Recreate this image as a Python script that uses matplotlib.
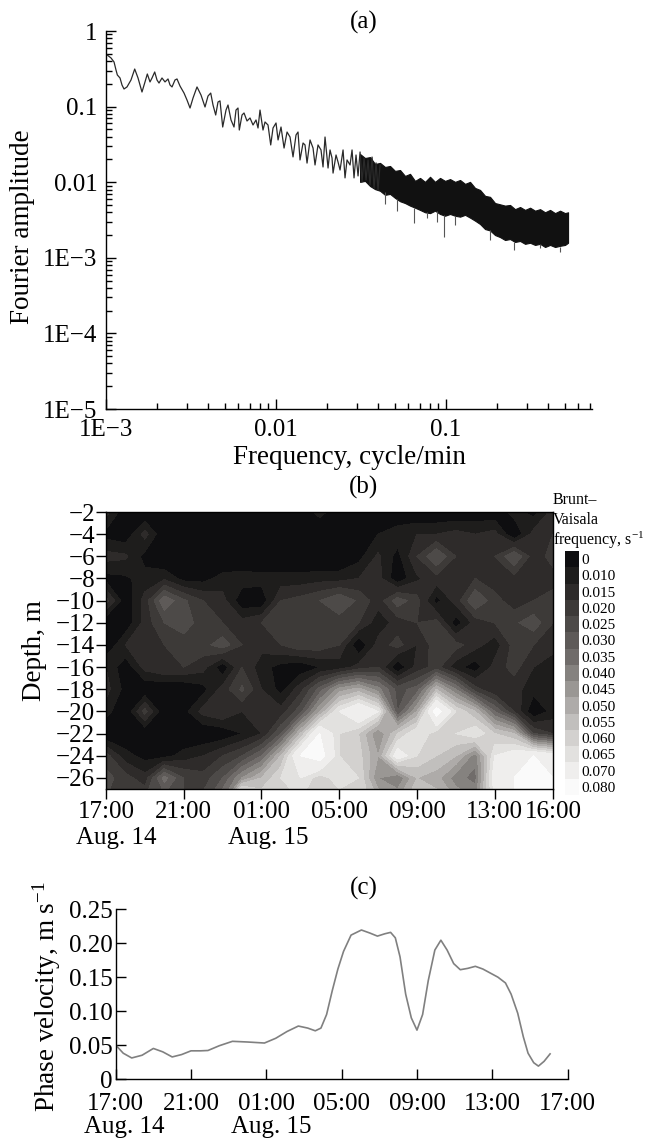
import numpy as np
import matplotlib
matplotlib.use('Agg')
import matplotlib.pyplot as plt
from matplotlib.colors import ListedColormap
from matplotlib.ticker import FixedLocator, FixedFormatter, NullFormatter, LogLocator

plt.rcParams['font.family'] = ['Liberation Serif', 'DejaVu Serif']
plt.rcParams['mathtext.fontset'] = 'custom'
plt.rcParams['mathtext.rm'] = 'Liberation Serif'
plt.rcParams['mathtext.it'] = 'Liberation Serif:italic'
plt.rcParams['axes.linewidth'] = 1.0

# ---------------- (a) Fourier spectrum ----------------
spec_freq = [0.001018, 0.00107, 0.001115, 0.001145, 0.001166, 0.001209, 0.001242, 0.001276,
             0.001329, 0.001403, 0.001475, 0.001543, 0.001628, 0.001696, 0.00175, 0.001815,
             0.001865, 0.001934, 0.001995, 0.00205, 0.002135, 0.002224, 0.002316, 0.00238,
             0.002445, 0.002546, 0.002616, 0.002725, 0.002877, 0.002996, 0.003121, 0.00325,
             0.00343, 0.003622, 0.003823, 0.003981, 0.00413, 0.00426, 0.004418, 0.004558,
             0.004683, 0.004858, 0.00508, 0.005219, 0.005436, 0.005661, 0.005816, 0.005976,
             0.006082, 0.00631, 0.006483, 0.006752, 0.007032, 0.007323, 0.007627, 0.007836,
             0.008051, 0.008384, 0.008615, 0.008972, 0.009307, 0.009602, 0.01, 0.01028,
             0.0107, 0.01115, 0.01161, 0.01209, 0.01259, 0.01311, 0.01347, 0.01384,
             0.01442, 0.01481, 0.01522, 0.01585, 0.01651, 0.01696, 0.01766, 0.01839,
             0.0189, 0.01942, 0.02023, 0.02078, 0.02135, 0.02165, 0.02254, 0.02316,
             0.0238, 0.02479, 0.02546, 0.02616, 0.02725, 0.028, 0.02876, 0.02955,
             0.03037, 0.03121, 0.03206, 0.03294, 0.03385, 0.03478, 0.03573, 0.03672,
             0.03772, 0.03876, 0.03981, 0.04091]
spec_amp = [0.48, 0.44, 0.389, 0.305, 0.262, 0.239, 0.193, 0.171,
            0.182, 0.225, 0.314, 0.239, 0.156, 0.212, 0.27, 0.212,
            0.239, 0.287, 0.225, 0.205, 0.239, 0.212, 0.232, 0.193,
            0.182, 0.225, 0.232, 0.187, 0.151, 0.122, 0.0958, 0.13,
            0.182, 0.142, 0.0988, 0.138, 0.151, 0.105, 0.0774, 0.115,
            0.119, 0.0537, 0.09, 0.105, 0.0665, 0.0537, 0.09, 0.0958,
            0.049, 0.0774, 0.0823, 0.0645, 0.0707, 0.0571, 0.0665, 0.0521,
            0.09, 0.049, 0.0626, 0.0571, 0.0311, 0.0521, 0.0607, 0.0362,
            0.0537, 0.0283, 0.0461, 0.0396, 0.0216, 0.0421, 0.0461, 0.0197,
            0.033, 0.0311, 0.0179, 0.0362, 0.0283, 0.0169, 0.0311, 0.0267,
            0.0159, 0.0396, 0.0154, 0.0267, 0.0209, 0.0132, 0.0229, 0.0185,
            0.0145, 0.0267, 0.0114, 0.0197, 0.0169, 0.0267, 0.0114, 0.0229,
            0.0121, 0.0251, 0.0101, 0.0209, 0.0107, 0.0197, 0.0092, 0.0215,
            0.0084, 0.018, 0.0079, 0.0169]

band_freq = [0.03121, 0.03339,
             0.03573, 0.03823, 0.04091, 0.04378, 0.04684, 0.05012, 0.05363, 0.05739,
             0.06141, 0.06571, 0.07032, 0.07524, 0.08051, 0.08615, 0.09219, 0.09865,
             0.1056, 0.113, 0.1209, 0.1294, 0.1384, 0.1481, 0.1585, 0.1696,
             0.1815, 0.1942, 0.2078, 0.2224, 0.238, 0.2546, 0.2725, 0.2916,
             0.3121, 0.3339, 0.3573, 0.3823, 0.4091, 0.4378, 0.4684, 0.5012, 0.5219]
band_top = [0.0236, 0.0209,
            0.0215, 0.0174, 0.018, 0.0159, 0.0164, 0.0141, 0.0145, 0.0121,
            0.0129, 0.0104, 0.0114, 0.0101, 0.0118, 0.0101, 0.0114, 0.0104,
            0.011, 0.0101, 0.0107, 0.0095, 0.0101, 0.0084, 0.0079, 0.0066,
            0.0064, 0.0053, 0.0051, 0.0049, 0.005, 0.0044, 0.0047, 0.0043,
            0.0046, 0.0042, 0.0044, 0.004, 0.0043, 0.0039, 0.0042, 0.0039, 0.004]
band_bottom = [0.0101, 0.0104,
               0.0089, 0.0081, 0.0077, 0.0068, 0.007, 0.0062, 0.0056, 0.0053,
               0.0049, 0.0046, 0.0043, 0.004, 0.0039, 0.0042, 0.0038, 0.0036,
               0.0038, 0.0036, 0.0035, 0.0037, 0.0034, 0.0031, 0.0028, 0.0024,
               0.0023, 0.002, 0.00188, 0.00172, 0.00177, 0.00162, 0.00167, 0.00153,
               0.00158, 0.00148, 0.00153, 0.00139, 0.00148, 0.00139, 0.00144, 0.00148, 0.00158]

spike_freq = [0.04378, 0.05149, 0.0651, 0.07731, 0.08852, 0.09732, 0.113, 0.1808, 0.2512,
              0.3554, 0.4684]
spike_top = [0.0075, 0.006, 0.0046, 0.004, 0.0042, 0.0037, 0.0036, 0.0023, 0.0016, 0.0015, 0.0014]
spike_low = [0.0052, 0.0041, 0.0029, 0.00336, 0.00297, 0.00188, 0.0027, 0.00172, 0.00127,
             0.00135, 0.0012]

a_xticks = [1e-3, 1e-2, 1e-1]
a_xticklabels = ['1E\u22123', '0.01', '0.1']
a_yticks = [1e-5, 1e-4, 1e-3, 1e-2, 1e-1, 1]
a_yticklabels = ['1E\u22125', '1E\u22124', '1E\u22123', '0.01', '0.1', '1']

# ---------------- (b) Brunt-Vaisala frequency ----------------
bv_hours = list(range(24))
bv_depth = [-2, -4, -6, -8, -10, -12, -14, -16, -18, -20, -22, -24, -26, -28]
bv_milli = [
    [17, 6, 5, 5, 5, 5, 5, 5, 5, 5, 6, 12, 6, 5, 5, 5, 5, 5, 5, 6, 6, 12, 8, 17],
    [8, 6, 17, 5, 4, 4, 4, 4, 4, 4, 4, 4, 4, 5, 10, 13, 15, 15, 17, 15, 17, 5, 17, 20],
    [17, 16, 8, 4, 4, 4, 4, 4, 4, 4, 4, 4, 4, 8, 16, 8, 20, 30, 20, 17, 20, 30, 17, 22],
    [8, 9, 12, 14, 8, 8, 12, 13, 12, 12, 12, 13, 13, 15, 17, 6, 14, 18, 17, 20, 17, 18, 20, 18],
    [22, 6, 17, 34, 26, 20, 17, 6, 6, 20, 22, 25, 30, 24, 17, 28, 22, 8, 17, 30, 22, 17, 20, 22],
    [5, 6, 17, 25, 28, 22, 20, 17, 20, 23, 24, 24, 22, 20, 12, 17, 20, 22, 7, 17, 20, 24, 28, 20],
    [5, 15, 20, 20, 22, 23, 28, 20, 17, 20, 24, 23, 20, 5, 17, 22, 15, 23, 22, 17, 12, 22, 20, 17],
    [15, 6, 17, 20, 20, 17, 6, 20, 12, 8, 6, 10, 12, 17, 20, 5, 17, 22, 12, 7, 17, 22, 15, 12],
    [17, 8, 5, 5, 5, 8, 17, 26, 15, 8, 18, 32, 47, 52, 42, 28, 32, 55, 40, 22, 15, 17, 12, 15],
    [12, 5, 22, 5, 8, 17, 20, 15, 20, 17, 28, 50, 70, 80, 70, 30, 50, 85, 65, 55, 35, 20, 5, 12],
    [5, 5, 5, 8, 5, 5, 6, 10, 15, 30, 55, 80, 65, 60, 45, 60, 70, 62, 65, 70, 60, 55, 25, 20],
    [22, 12, 8, 8, 12, 15, 20, 25, 35, 55, 80, 85, 65, 62, 50, 75, 65, 60, 55, 42, 70, 75, 80, 75],
    [27, 22, 17, 37, 25, 22, 30, 45, 55, 65, 70, 62, 68, 65, 45, 40, 55, 52, 42, 38, 75, 80, 85, 80],
    [25, 25, 25, 27, 25, 27, 40, 85, 65, 62, 65, 60, 62, 65, 55, 50, 60, 58, 50, 45, 70, 80, 82, 80],
]
bv_levels = [0, 0.010, 0.015, 0.020, 0.025, 0.030, 0.035, 0.040, 0.045, 0.050,
             0.055, 0.060, 0.065, 0.070, 0.080, 0.100]
bv_labels = ['0', '0.010', '0.015', '0.020', '0.025', '0.030', '0.035', '0.040',
             '0.045', '0.050', '0.055', '0.060', '0.065', '0.070', '0.080']
b_xticks = [0, 4, 8, 12, 16, 20, 23]
b_xticklabels = ['17:00', '21:00', '01:00', '05:00', '09:00', '13:00', '16:00']
b_yticks = [-2, -4, -6, -8, -10, -12, -14, -16, -18, -20, -22, -24, -26]

# ---------------- (c) Phase velocity ----------------
pv_hours = [0, 0.4, 0.85, 1.4, 2.0, 2.5, 3.0, 3.5, 4.0, 4.5, 4.9, 5.5, 6.2, 7.0, 7.9, 8.5,
            9.1, 9.7, 10.2, 10.6, 10.9, 11.2, 11.5, 11.8, 12.1, 12.5, 13.05, 13.5, 13.9,
            14.3, 14.6, 14.85, 15.1, 15.4, 15.7, 16.0, 16.3, 16.6, 16.95, 17.27, 17.6,
            17.95, 18.3, 18.7, 19.1, 19.5, 19.9, 20.3, 20.7, 21.0, 21.35, 21.65, 21.9,
            22.2, 22.45, 22.75, 23.07]
pv_speed = [0.050, 0.038, 0.031, 0.035, 0.045, 0.040, 0.0325, 0.036, 0.0415, 0.0415, 0.042,
            0.049, 0.0555, 0.0545, 0.053, 0.060, 0.070, 0.078, 0.075, 0.071, 0.075, 0.095,
            0.130, 0.162, 0.188, 0.212, 0.2195, 0.215, 0.2105, 0.214, 0.216, 0.208, 0.180,
            0.125, 0.090, 0.072, 0.095, 0.145, 0.190, 0.2045, 0.190, 0.170, 0.161, 0.163,
            0.166, 0.162, 0.156, 0.150, 0.1415, 0.125, 0.097, 0.062, 0.038, 0.024, 0.019,
            0.026, 0.037]
c_xticks = [0, 4, 8, 12, 16, 20, 24]
c_xticklabels = ['17:00', '21:00', '01:00', '05:00', '09:00', '13:00', '17:00']
c_yticks = [0, 0.05, 0.10, 0.15, 0.20, 0.25]
c_yticklabels = ['0', '0.05', '0.10', '0.15', '0.20', '0.25']

gray_colors = ['#0e0e10', '#1e1d1c', '#2e2b2a', '#3d3a38', '#4d4a48', '#5e5a58',
               '#706c6a', '#85827f', '#9a9794', '#aeaba9', '#c1bfbd', '#d3d1cf',
               '#e2e1df', '#efeeed', '#fafafa']

W, H = 655, 1140
fig = plt.figure(figsize=(W / 100, H / 100), dpi=100)


def box(l, t, r, b):
    return [l / W, 1 - b / H, (r - l) / W, (b - t) / H]


TICK = 18
LAB = 19.5

# ---------- panel (a)
ax_a = fig.add_axes(box(106, 31, 591.6, 409))
ax_a.set_xscale('log')
ax_a.set_yscale('log')
ax_a.fill_between(band_freq, band_bottom, band_top, color='#111111', lw=0.8)
ax_a.plot(spec_freq, spec_amp, color='#2a2a2a', lw=0.9)
ax_a.vlines(spike_freq, spike_low, spike_top, color='#555555', lw=0.8)
ax_a.set_xlim(1e-3, 0.718)
ax_a.set_ylim(1e-5, 1)
ax_a.xaxis.set_major_locator(FixedLocator(a_xticks))
ax_a.xaxis.set_major_formatter(FixedFormatter(a_xticklabels))
ax_a.yaxis.set_major_locator(FixedLocator(a_yticks))
ax_a.yaxis.set_major_formatter(FixedFormatter(a_yticklabels))
ax_a.xaxis.set_minor_locator(LogLocator(base=10, subs=np.arange(2, 10)))
ax_a.yaxis.set_minor_locator(LogLocator(base=10, subs=np.arange(2, 10), numticks=20))
ax_a.xaxis.set_minor_formatter(NullFormatter())
ax_a.yaxis.set_minor_formatter(NullFormatter())
ax_a.tick_params(which='both', direction='in', top=False, right=False, width=1)
ax_a.tick_params(which='major', length=7, labelsize=TICK)
ax_a.tick_params(which='minor', length=4)
ax_a.tick_params(axis='x', which='major', pad=7)
ax_a.tick_params(axis='y', which='major', pad=6)
for s in ['top', 'right']:
    ax_a.spines[s].set_visible(False)

# ---------- panel (b)
ax_b = fig.add_axes(box(106, 512, 553, 789))
Z = np.array(bv_milli) * 0.001
ax_b.contourf(bv_hours, bv_depth, Z, levels=bv_levels, colors=gray_colors)
ax_b.set_xlim(0, 23)
ax_b.set_ylim(-27, -2)
ax_b.set_xticks(b_xticks)
ax_b.set_xticklabels(b_xticklabels)
ax_b.set_yticks(b_yticks)
ax_b.tick_params(direction='out', length=7, width=1, labelsize=TICK)
ax_b.tick_params(axis='y', pad=1)
ax_b.tick_params(axis='x', pad=2)
for lab, t, dx in [('Aug. 14', 0, 7.2), ('Aug. 15', 8, 5.0)]:
    ax_b.annotate(lab, xy=(t, 0), xycoords=('data', 'axes fraction'),
                  xytext=(dx, -35.3), textcoords='offset points',
                  ha='center', va='center', fontsize=TICK, annotation_clip=False)

# colorbar
ax_cb = fig.add_axes(box(565, 551, 579, 795))
ax_cb.imshow(np.arange(len(gray_colors)).reshape(-1, 1), cmap=ListedColormap(gray_colors),
             aspect='auto', interpolation='nearest')
ax_cb.set_xticks([])
ax_cb.set_yticks(range(len(bv_labels)))
ax_cb.set_yticklabels(bv_labels)
ax_cb.yaxis.tick_right()
ax_cb.tick_params(length=0, labelsize=11, pad=2)
for s in ax_cb.spines.values():
    s.set_visible(False)
fig.text(552.7 / W, 1 - 500 / H, 'Brunt\u2013', ha='left', va='center', fontsize=11.5)
fig.text(552.7 / W, 1 - 520 / H, 'Vaisala', ha='left', va='center', fontsize=11.5)
fig.text(552.7 / W, 1 - 540 / H, 'frequency, s$^{\\mathregular{-1}}$', ha='left', va='center', fontsize=11.5)

# ---------- panel (c)
ax_c = fig.add_axes(box(115.7, 909.3, 567.6, 1079))
ax_c.plot(pv_hours, pv_speed, color='#808080', lw=1.2)
ax_c.set_xlim(0, 24)
ax_c.set_ylim(0, 0.25)
ax_c.set_xticks(c_xticks)
ax_c.set_xticklabels(c_xticklabels)
ax_c.set_yticks(c_yticks)
ax_c.set_yticklabels(c_yticklabels)
ax_c.tick_params(direction='in', length=7, width=1, labelsize=TICK)
ax_c.tick_params(axis='y', pad=2)
ax_c.tick_params(axis='x', pad=10)
for s in ['top', 'right']:
    ax_c.spines[s].set_visible(False)
for lab, t, dx in [('Aug. 14', 0, 6.5), ('Aug. 15', 8, 3.6)]:
    ax_c.annotate(lab, xy=(t, 0), xycoords=('data', 'axes fraction'),
                  xytext=(dx, -34.5), textcoords='offset points',
                  ha='center', va='center', fontsize=TICK, annotation_clip=False)

# ---------- titles and labels
fig.text(363.7 / W, 1 - 22 / H, '(a)', ha='center', va='center', fontsize=TICK)
fig.text(363.7 / W, 1 - 487 / H, '(b)', ha='center', va='center', fontsize=TICK)
fig.text(363.7 / W, 1 - 888 / H, '(c)', ha='center', va='center', fontsize=TICK)
fig.text(349 / W, 1 - 457 / H, 'Frequency, cycle/min', ha='center', va='center', fontsize=LAB)
fig.text(23 / W, 1 - 226.7 / H, 'Fourier amplitude', rotation=90, ha='center', va='center', fontsize=LAB)
fig.text(34.7 / W, 1 - 650.8 / H, 'Depth, m', rotation=90, ha='center', va='center', fontsize=LAB)
fig.text(47 / W, 1 - 997 / H, 'Phase velocity, m s$^{\\mathregular{-1}}$', rotation=90,
         ha='center', va='center', fontsize=LAB)

fig.savefig('out.png', dpi=100)
